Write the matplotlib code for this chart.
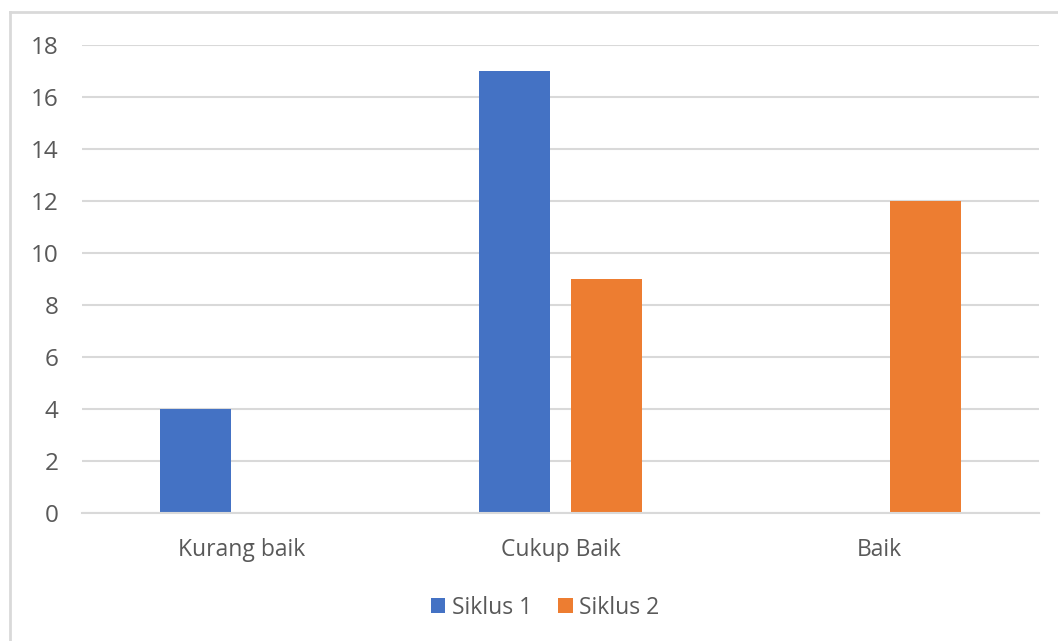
import matplotlib.pyplot as plt
import numpy as np

categories = ['Kurang baik', 'Cukup Baik', 'Baik']
siklus_1 = [4, 17, 0]
siklus_2 = [0, 9, 12]
y_ticks = [0, 2, 4, 6, 8, 10, 12, 14, 16, 18]

plt.rcParams['font.family'] = ['Open Sans', 'DejaVu Sans']

fig = plt.figure(figsize=(10.58, 6.41), dpi=100)
ax = fig.add_axes([0.0775, 0.1997, 0.9045, 0.7301])

x = np.arange(len(categories))
w = 0.225
off = 0.144
ax.bar(x - off, siklus_1, w, color='#4472C4', label='Siklus 1', zorder=3)
ax.bar(x + off, siklus_2, w, color='#ED7D31', label='Siklus 2', zorder=3)

ax.set_xlim(-0.5, 2.5)
ax.set_ylim(0, 18)
ax.set_yticks(y_ticks)
ax.set_xticks(x)
ax.set_xticklabels(categories)
ax.yaxis.grid(True, color='#D9D9D9', linewidth=1.5, zorder=0)
for s in ['top', 'right', 'left']:
    ax.spines[s].set_visible(False)
ax.spines['bottom'].set_color('#D9D9D9')
ax.spines['bottom'].set_linewidth(1.5)
ax.spines['bottom'].set_zorder(4)
ax.tick_params(axis='x', length=0, labelsize=16.5, labelcolor='#595959', pad=18)
ax.tick_params(axis='y', length=0, labelsize=17.5, labelcolor='#595959', pad=17)

ax.legend(loc='center', bbox_to_anchor=(0.484, -0.202), ncol=2, frameon=False,
          fontsize=16.5, labelcolor='#595959', handlelength=0.65, handleheight=0.65,
          handletextpad=0.3, columnspacing=1.1)

# chart border (only top and left visible in the crop)
fig.add_artist(plt.Line2D([0.0095, 0.0095], [0, 1 - 12 / 641], color='#D9D9D9', lw=2))
fig.add_artist(plt.Line2D([0.0095, 1], [1 - 12 / 641, 1 - 12 / 641], color='#D9D9D9', lw=2))

fig.savefig('out.png', dpi=100)
